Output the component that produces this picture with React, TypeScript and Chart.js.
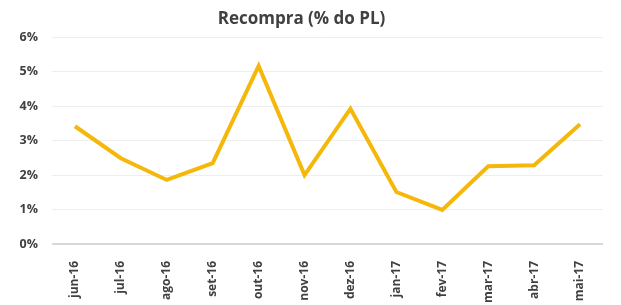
import React, { useEffect, useRef } from "react";
import { Chart, registerables } from "chart.js";

Chart.register(...registerables);

const categories = ["jun-16", "jul-16", "ago-16", "set-16", "out-16", "nov-16", "dez-16", "jan-17", "fev-17", "mar-17", "abr-17", "mai-17"];
const recompra = [3.42, 2.49, 1.86, 2.35, 5.17, 2.0, 3.93, 1.51, 0.99, 2.26, 2.29, 3.48];
const titleText = "Recompra (% do PL)";

export default function App() {
  const ref = useRef<HTMLCanvasElement>(null);
  useEffect(() => {
    document.body.style.margin = "0";
    const chart = new Chart(ref.current!, {
      type: "line",
      data: {
        labels: categories,
        datasets: [
          {
            data: recompra,
            borderColor: "#F5B80A",
            borderWidth: 4,
            pointRadius: 0,
            tension: 0,
            fill: false,
          },
        ],
      },
      options: {
        animation: false,
        responsive: false,
        layout: { padding: { left: 0, right: 18, top: 9, bottom: 0 } },
        plugins: {
          legend: { display: false },
          tooltip: { enabled: false },
          title: {
            display: true,
            text: titleText,
            color: "#404040",
            font: { family: "Open Sans", size: 17, weight: "bold" },
            padding: { top: 0, bottom: 8 },
          },
        },
        scales: {
          x: {
            offset: true,
            grid: { display: false },
            border: { display: false },
            afterFit: (s: any) => {
              s.height = 61;
            },
            ticks: {
              minRotation: 90,
              maxRotation: 90,
              color: "#404040",
              padding: 9,
              font: { family: "Open Sans", size: 12, weight: "bold" },
            },
          },
          y: {
            min: 0,
            max: 6,
            afterFit: (s: any) => {
              s.width = 52;
            },
            ticks: {
              stepSize: 1,
              callback: (v: any) => v + "%",
              color: "#404040",
              padding: 14,
              font: { family: "Open Sans", size: 12.5, weight: "bold" },
            },
            grid: {
              drawTicks: false,
              lineWidth: (ctx: any) => (ctx.tick && ctx.tick.value === 0 ? 2 : 1),
              color: (ctx: any) => (ctx.tick && ctx.tick.value === 0 ? "#d9d9d9" : "#eeeeee"),
            },
            border: { display: false },
          },
        },
      },
    });
    return () => chart.destroy();
  }, []);
  return <canvas ref={ref} width={621} height={305} style={{ display: "block" }} />;
}
